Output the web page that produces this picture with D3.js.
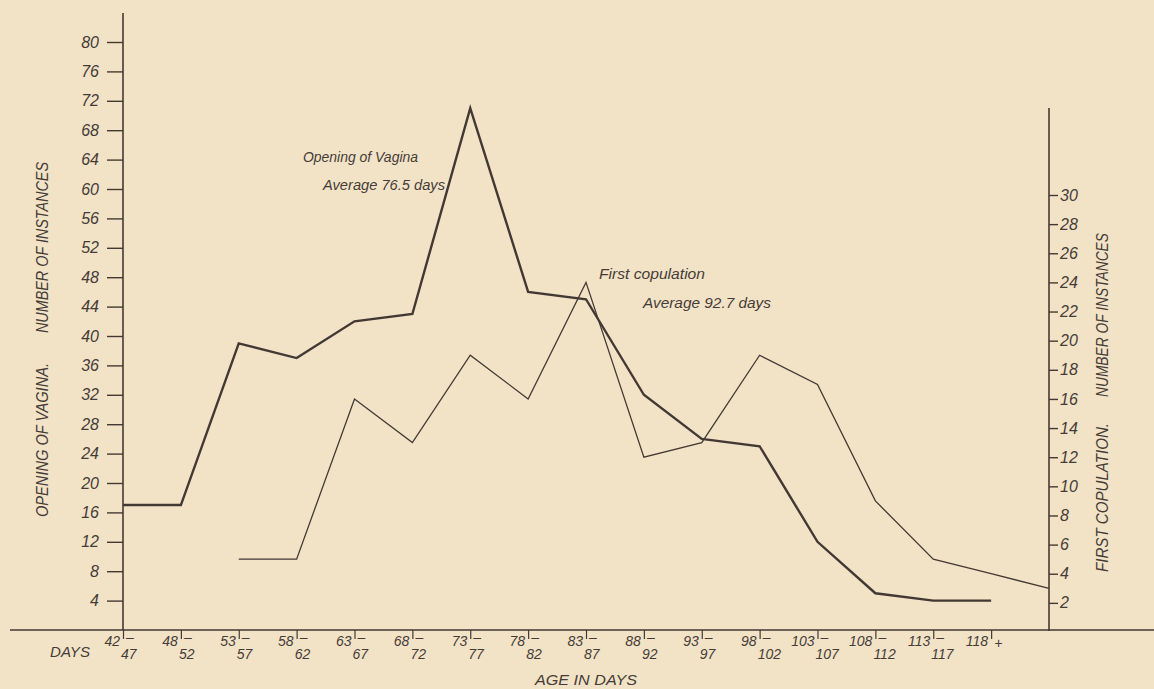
<!DOCTYPE html>
<html><head><meta charset="utf-8">
<script src="https://cdn.jsdelivr.net/npm/d3@7/dist/d3.min.js"></script>
<style>
html,body{margin:0;padding:0;background:#f2e3c7;}
svg{display:block;}
text{font-family:"Liberation Sans", Arial, sans-serif;font-style:italic;fill:#463c37;}
</style></head><body>
<svg id="chart" width="1154" height="689"></svg>
<script>
// ---- data ----
const categories = ["42-47","48-52","53-57","58-62","63-67","68-72","73-77","78-82","83-87","88-92","93-97","98-102","103-107","108-112","113-117","118+"];
const rangeStart = ["42","48","53","58","63","68","73","78","83","88","93","98","103","108","113","118"];
const rangeEnd   = ["47","52","57","62","67","72","77","82","87","92","97","102","107","112","117",""];
const rangeMark  = ["–","–","–","–","–","–","–","–","–","–","–","–","–","–","–","+"];
const vaginaCounts     = [17,17,39,37,42,43,71,46,45,32,26,25,12,5,4,4];
const copulationCounts = [null,null,5,5,16,13,19,16,24,12,13,19,17,9,5,4];
const copulationAtRightAxis = 3;
const leftTicks  = [4,8,12,16,20,24,28,32,36,40,44,48,52,56,60,64,68,72,76,80];
const rightTicks = [2,4,6,8,10,12,14,16,18,20,22,24,26,28,30];
const leftTitle1 = "OPENING OF VAGINA.", leftTitle2 = "NUMBER OF INSTANCES";
const rightTitle1 = "FIRST COPULATION.", rightTitle2 = "NUMBER OF INSTANCES";

// ---- drawing ----
const ink = "#433934";
const svg = d3.select("#chart");
const AXIS_SLOT = "|";
const x = d3.scalePoint().domain([...categories, AXIS_SLOT]).range([123, 1049]);
const yL = d3.scaleLinear().domain([0, 80]).range([630, 42]);
const yR = d3.scaleLinear().domain([0, 30]).range([632, 195]);

// axis lines
svg.append("line").attr("x1",10).attr("x2",1154).attr("y1",630).attr("y2",630)
  .attr("stroke",ink).attr("stroke-width",1.6);
svg.append("line").attr("x1",x(categories[0])).attr("x2",x(categories[0])).attr("y1",13).attr("y2",630)
  .attr("stroke",ink).attr("stroke-width",1.6);
svg.append("line").attr("x1",x(AXIS_SLOT)).attr("x2",x(AXIS_SLOT)).attr("y1",108).attr("y2",631)
  .attr("stroke",ink).attr("stroke-width",1.6);

// left axis
const gL = svg.append("g").attr("transform",`translate(${x(categories[0])},0)`)
  .call(d3.axisLeft(yL).tickValues(leftTicks).tickSize(16).tickPadding(8));
gL.select(".domain").remove();
gL.selectAll(".tick line").attr("stroke",ink).attr("stroke-width",1.4);
gL.selectAll(".tick text").attr("font-size",16).attr("font-family",null).attr("fill",ink);

// right axis
const gR = svg.append("g").attr("transform",`translate(${x(AXIS_SLOT)},0)`)
  .call(d3.axisRight(yR).tickValues(rightTicks).tickSize(9).tickPadding(2));
gR.select(".domain").remove();
gR.selectAll(".tick line").attr("stroke",ink).attr("stroke-width",1.4);
gR.selectAll(".tick text").attr("font-size",16).attr("font-family",null).attr("fill",ink);

// bottom axis ticks
const gB = svg.append("g").attr("transform","translate(0,630)")
  .call(d3.axisBottom(x).tickValues(categories).tickSize(9).tickFormat(() => ""));
gB.select(".domain").remove();
gB.selectAll(".tick line").attr("stroke",ink).attr("stroke-width",1.2);

// stacked range labels: one text element per tick
const lab = svg.append("g").attr("font-size",14);
categories.forEach((c,i) => {
  const cx = x(c);
  const t = lab.append("text");
  t.append("tspan").attr("x",cx-3).attr("y",646).attr("text-anchor","end").text(rangeStart[i]);
  t.append("tspan").attr("x",cx+3).attr("y", rangeMark[i]==="+" ? 648 : 642).attr("text-anchor","start").text(rangeMark[i]);
  if (rangeEnd[i]) t.append("tspan").attr("x",cx-2).attr("y",659).attr("text-anchor","start").text(rangeEnd[i]);
});

// series
const lineL = d3.line().defined(d => d.v != null).x(d => x(d.c)).y(d => yL(d.v));
const lineR = d3.line().defined(d => d.v != null).x(d => x(d.c)).y(d => yR(d.v));
const vagData = categories.map((c,i) => ({c, v: vaginaCounts[i]}));
const copData = categories.map((c,i) => ({c, v: copulationCounts[i]}))
  .filter(d => d.v != null).concat([{c: AXIS_SLOT, v: copulationAtRightAxis}]);

svg.append("path").datum(copData).attr("d",lineR).attr("fill","none")
  .attr("stroke",ink).attr("stroke-width",1.3).attr("stroke-linejoin","miter");
svg.append("path").datum(vagData).attr("d",lineL).attr("fill","none")
  .attr("stroke",ink).attr("stroke-width",2.4).attr("stroke-linejoin","miter");

// axis titles
function vtext(txt, bx, yBottom, yTop, size) {
  svg.append("text").attr("transform",`translate(${bx},${yBottom}) rotate(-90)`)
    .attr("font-size",size).attr("textLength", yBottom - yTop).attr("lengthAdjust","spacingAndGlyphs").text(txt);
}
vtext(leftTitle1, 48, 517, 363, 16);
vtext(leftTitle2, 48, 333, 162, 16);
vtext(rightTitle1, 1108, 572, 423, 16);
vtext(rightTitle2, 1108, 397, 233, 16);

function htext(txt, x0, x1, by, size) {
  svg.append("text").attr("x",x0).attr("y",by).attr("font-size",size)
    .attr("textLength", x1 - x0).attr("lengthAdjust","spacingAndGlyphs").text(txt);
}
htext("DAYS", 50, 90, 657, 15);
htext("AGE IN DAYS", 535, 637, 685, 15);
htext("Opening of Vagina", 303, 418, 162, 15);
htext("Average  76.5 days", 323, 445, 190, 15);
htext("First copulation", 599, 705, 279, 15);
htext("Average  92.7 days", 643, 771, 308, 15);
</script>
</body></html>
